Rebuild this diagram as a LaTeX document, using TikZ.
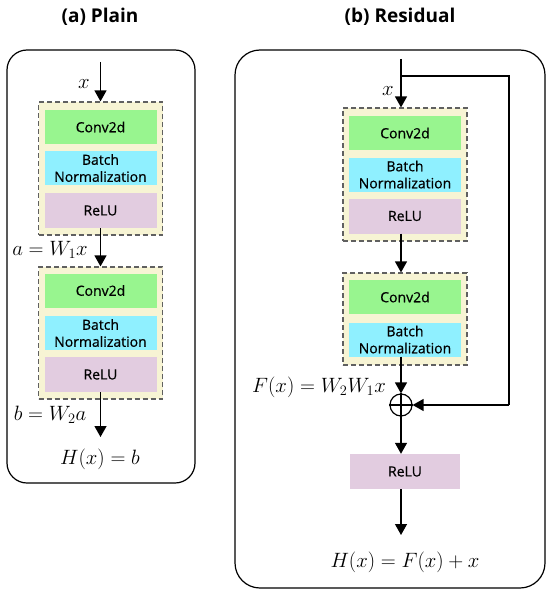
\documentclass[tikz,border=0pt]{standalone}
\usepackage{fontspec}
\setmainfont{Open Sans}
\newfontfamily\blkfont{Open Sans}[UprightFeatures={FakeBold=0.6}]
\usetikzlibrary{arrows.meta}
\definecolor{cgreen}{HTML}{98F58F}
\definecolor{ccyan}{HTML}{8FF0FF}
\definecolor{cpink}{HTML}{E2CCE0}
\definecolor{ccream}{HTML}{F7F4D4}
\definecolor{cdash}{HTML}{606060}
\tikzset{
  panel/.style={draw=black, line width=1.2pt},
  grp/.style={draw=cdash, dash pattern=on 5pt off 3pt, line width=1.2pt, fill=ccream, inner sep=0pt, minimum width=124pt},
  blk/.style={inner sep=0pt, minimum width=112pt, font=\blkfont\fontsize{14}{17}\selectfont, align=center},
  conv/.style={blk, fill=cgreen, minimum height=34pt},
  bn/.style={blk, fill=ccyan, minimum height=34pt},
  relu/.style={blk, fill=cpink, minimum height=35pt},
  ttl/.style={font=\fontsize{19}{23}\selectfont\bfseries},
  mth/.style={font=\fontsize{20}{24}\selectfont, inner sep=0pt},
  arr/.style={line width=1.3pt, -{Triangle[width=12pt,length=11pt]}},
  ln/.style={line width=1.3pt},
}
\begin{document}
\begin{tikzpicture}[x=1pt,y=-1pt]
\useasboundingbox (0,0) rectangle (550,594);
% ---------- (a) Plain ----------
\node[ttl] (ta) at (100,17) {(a) Plain};
\draw[panel, rounded corners=20pt] (7,50) rectangle (195,483);
\node[grp, minimum height=133pt] (ga) at (100.5,168.5) {};
\node[conv] (ca1) at (100.5,127) {Conv2d};
\node[bn] (ba1) at (100.5,168) {Batch\\Normalization};
\node[relu] (ra1) at (100.5,210.5) {ReLU};
\node[grp, minimum height=132pt] (gb) at (100.5,333) {};
\node[conv] (ca2) at (100.5,290.5) {Conv2d};
\node[bn] (ba2) at (100.5,333) {Batch\\Normalization};
\node[relu] (ra2) at (100.5,374.5) {ReLU};
\coordinate (ina) at (100.5,62);
\coordinate (outa) at (100.5,437);
\draw[arr] (ina) -- (ga.north);
\draw[arr] (ra1.south) -- (gb.north);
\draw[arr] (ra2.south) -- (outa);
\node[mth] (xa) at (84,84) {$x$};
\node[mth] (la) at (50,250) {$a = W_1x$};
\node[mth] (lb) at (50,415) {$b = W_2a$};
\node[mth] (ha) at (100,459) {$H(x) = b$};
% ---------- (b) Residual ----------
\node[ttl] (tb) at (400,17) {(b) Residual};
\draw[panel, rounded corners=25pt] (235,50) rectangle (545,588);
\node[grp, minimum height=133pt] (gc) at (405,174.5) {};
\node[conv] (cb1) at (405,133) {Conv2d};
\node[bn] (bb1) at (405,174.5) {Batch\\Normalization};
\node[relu] (rb1) at (405,216) {ReLU};
\node[grp, minimum height=92pt] (gd) at (405,319) {};
\node[conv] (cb2) at (405,297) {Conv2d};
\node[bn] (bb2) at (405,339.5) {Batch\\Normalization};
\node[relu, minimum width=110pt] (rb3) at (405,471.5) {ReLU};
\node[draw, circle, line width=1.2pt, minimum size=22pt, inner sep=0pt] (sum) at (401,405) {};
\draw[line width=1.2pt] (sum.north) -- (sum.south) (sum.west) -- (sum.east);
\coordinate (inb) at (401,59);
\coordinate (sk1) at (401,76);
\coordinate (sk2) at (509,76);
\coordinate (outb) at (401,535);
\draw[arr] (inb) -- (gc.north -| inb);
\draw[ln] (sk1) -- (sk2) -- (sk2 |- sum.east);
\draw[arr] (sk2 |- sum.east) -- (sum.east);
\draw[arr] (rb1.south -| inb) -- (gd.north -| inb);
\draw[arr] (bb2.south -| inb) -- (sum.north);
\draw[arr] (sum.south) -- (rb3.north -| inb);
\draw[arr] (rb3.south -| inb) -- (outb);
\node[mth] (xb) at (388,91) {$x$};
\node[mth, anchor=east] (fx) at (386,387) {$F(x) = W_2W_1x$};
\node[mth] (hb) at (405,562) {$H(x) = F(x) + x$};
\end{tikzpicture}
\end{document}
